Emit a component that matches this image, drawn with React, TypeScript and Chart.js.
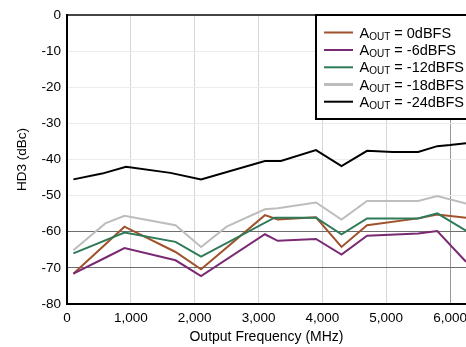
import React, { useEffect, useRef } from "react";
import { Chart, registerables } from "chart.js";

Chart.register(...registerables);

const FONT = "'Liberation Sans', Arial, sans-serif";

const X_TICKS = [0, 1000, 2000, 3000, 4000, 5000, 6000];
const X_MIN = 0;
const X_MAX = 6250;
const Y_MIN = -80;
const Y_MAX = 0;

const SERIES_NAMES = ["0dBFS", "-6dBFS", "-12dBFS", "-18dBFS", "-24dBFS"];
const SERIES_COLORS = ["#a0522d", "#7a2a73", "#2f7a58", "#bdbdbd", "#000000"];

const FREQ_0 = [100, 900, 1700, 2100, 3100, 3300, 3900, 4300, 4700, 5500, 5800, 6250];
const HD3_0 = [-71.6, -58.6, -65.6, -70.4, -55.4, -56.6, -56.0, -64.2, -58.2, -56.3, -55.2, -56.1];

const FREQ_6 = [100, 600, 900, 1700, 2100, 3100, 3300, 3900, 4300, 4700, 5500, 5800, 6250];
const HD3_6 = [-71.6, -67.2, -64.5, -67.9, -72.3, -60.7, -62.5, -62.0, -66.3, -61.1, -60.5, -59.8, -68.3];

const FREQ_12 = [100, 900, 1700, 2100, 3250, 3900, 4300, 4700, 5500, 5800, 6250];
const HD3_12 = [-66.0, -60.2, -62.8, -66.9, -56.1, -56.1, -60.7, -56.3, -56.3, -54.9, -59.7];

const FREQ_18 = [100, 600, 900, 1700, 2100, 2500, 3100, 3300, 3900, 4300, 4700, 5500, 5800, 6250];
const HD3_18 = [-65.1, -57.7, -55.6, -58.2, -64.2, -58.6, -53.8, -53.5, -51.9, -56.6, -51.5, -51.5, -50.1, -52.2];

const FREQ_24 = [100, 550, 925, 1620, 2100, 3100, 3350, 3900, 4300, 4700, 5100, 5500, 5800, 6000, 6250];
const HD3_24 = [-45.5, -43.9, -42.0, -43.7, -45.5, -40.4, -40.4, -37.4, -41.8, -37.6, -37.9, -37.9, -36.3, -36.0, -35.5];

const FREQS = [FREQ_0, FREQ_6, FREQ_12, FREQ_18, FREQ_24];
const VALUES = [HD3_0, HD3_6, HD3_12, HD3_18, HD3_24];

const legendPlugin = {
  id: "customLegend",
  afterDraw(chart: any) {
    const ctx = chart.ctx;
    const x0 = 316;
    const y0 = 15;
    const w = 170;
    const h = 104;
    ctx.save();
    ctx.fillStyle = "#ffffff";
    ctx.fillRect(x0, y0, w, h);
    ctx.strokeStyle = "#000";
    ctx.lineWidth = 2;
    ctx.strokeRect(x0, y0, w, h);
    const rowY = [32.5, 50, 67.3, 84.5, 101.7];
    SERIES_NAMES.forEach((name, i) => {
      const y = rowY[i];
      ctx.strokeStyle = SERIES_COLORS[i];
      ctx.lineWidth = i === 3 ? 3 : 2;
      ctx.beginPath();
      ctx.moveTo(324, y);
      ctx.lineTo(353, y);
      ctx.stroke();
      ctx.fillStyle = "#000";
      ctx.textBaseline = "alphabetic";
      ctx.textAlign = "left";
      let tx = 359.5;
      ctx.font = `14.5px ${FONT}`;
      ctx.fillText("A", tx, y + 5);
      tx += ctx.measureText("A").width;
      ctx.font = `10px ${FONT}`;
      ctx.fillText("OUT", tx, y + 7);
      tx += ctx.measureText("OUT").width;
      ctx.font = `14.5px ${FONT}`;
      ctx.fillText(" = " + name, tx, y + 5);
    });
    ctx.restore();
  },
};

export default function App() {
  const canvasRef = useRef<HTMLCanvasElement | null>(null);

  useEffect(() => {
    if (!canvasRef.current) return;
    const datasets = SERIES_NAMES.map((name, i) => ({
      label: "AOUT = " + name,
      data: FREQS[i].map((f, j) => ({ x: f, y: VALUES[i][j] })),
      borderColor: SERIES_COLORS[i],
      backgroundColor: SERIES_COLORS[i],
      borderWidth: 2,
      pointRadius: 0,
      tension: 0,
      fill: false,
    }));
    const order = [3, 2, 1, 0, 4];
    const chart = new Chart(canvasRef.current, {
      type: "line",
      data: { datasets: order.map((i) => datasets[i]) },
      plugins: [legendPlugin],
      options: {
        animation: false,
        responsive: false,
        maintainAspectRatio: false,
        layout: { padding: { top: 15, right: 0, left: 0, bottom: 0 } },
        plugins: { legend: { display: false }, tooltip: { enabled: false } },
        scales: {
          x: {
            type: "linear",
            min: X_MIN,
            max: X_MAX,
            afterBuildTicks: (s: any) => {
              s.ticks = X_TICKS.map((v) => ({ value: v }));
            },
            afterFit: (s: any) => {
              s.height = 43;
              s.paddingLeft = 0;
              s.paddingRight = 0;
            },
            ticks: {
              color: "#000",
              font: { family: FONT, size: 13.5 },
              padding: 6,
              maxRotation: 0,
              autoSkip: false,
            },
            grid: {
              drawTicks: false,
              color: (c: any) => (c.tick && c.tick.value === 6000 ? "#999999" : "#d6d6d6"),
              lineWidth: 1,
            },
            border: { color: "#000", width: 2 },
            title: {
              display: true,
              text: "Output Frequency (MHz)",
              color: "#000",
              font: { family: FONT, size: 14 },
              padding: { top: 0, bottom: 1 },
            },
          },
          y: {
            min: Y_MIN,
            max: Y_MAX,
            afterFit: (s: any) => {
              s.width = 67;
              s.paddingTop = 0;
              s.paddingBottom = 0;
            },
            ticks: {
              stepSize: 10,
              color: "#000",
              font: { family: FONT, size: 13.5 },
              padding: 6,
            },
            grid: {
              drawTicks: false,
              color: (c: any) => {
                const v = c.tick ? c.tick.value : null;
                if (v === 0) return "#444444";
                if (v === -60 || v === -70) return "#6e6e6e";
                return "#ececec";
              },
              lineWidth: (c: any) => (c.tick && c.tick.value === 0 ? 2 : 1),
            },
            border: { color: "#000", width: 2 },
            title: {
              display: true,
              text: "HD3 (dBc)",
              color: "#000",
              font: { family: FONT, size: 13.5 },
              padding: { top: 14, bottom: 0 },
            },
          },
        },
      },
    } as any);
    return () => chart.destroy();
  }, []);

  return (
    <div style={{ position: "fixed", left: 0, top: 0, width: 466, height: 347, background: "#fff" }}>
      <canvas ref={canvasRef} width={466} height={347} style={{ width: 466, height: 347 }} />
    </div>
  );
}
